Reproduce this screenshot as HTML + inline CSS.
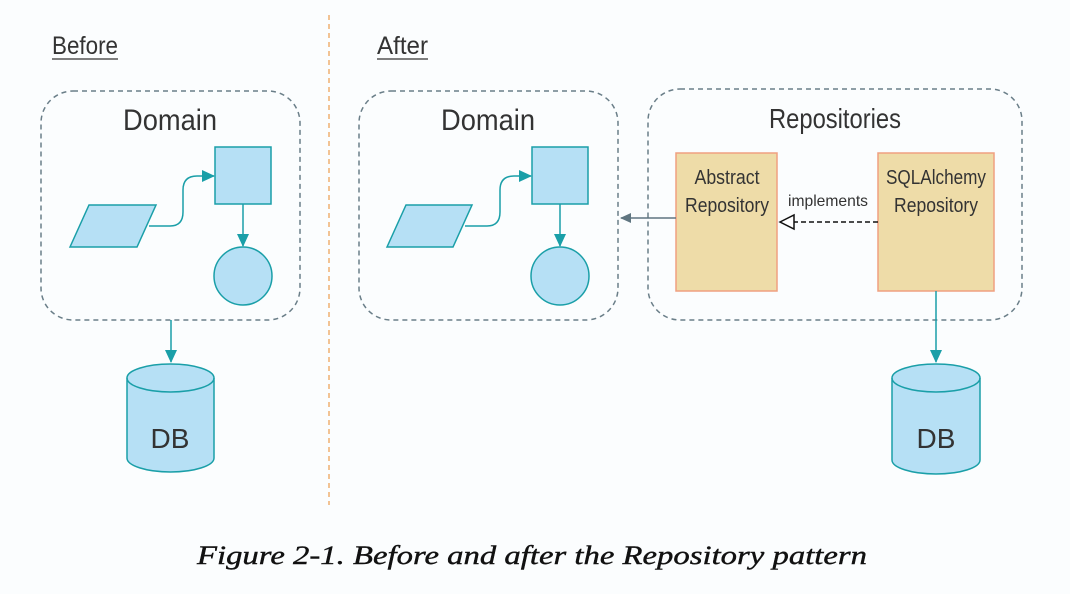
<!DOCTYPE html>
<html><head><meta charset="utf-8"><style>
html,body{margin:0;padding:0;background:#fff;}
svg{display:block;}
text{font-family:"Liberation Sans Narrow","Liberation Sans",sans-serif;fill:#333;}
</style></head><body>
<svg width="1070" height="594" viewBox="0 0 1070 594" xmlns="http://www.w3.org/2000/svg">
<defs>
<marker id="ta" markerWidth="13" markerHeight="12" refX="12" refY="6" orient="auto" markerUnits="userSpaceOnUse"><path d="M0,0 L13,6 L0,12 Z" fill="#1a9fa8"/></marker>
<marker id="ga" markerWidth="11" markerHeight="10" refX="10" refY="5" orient="auto" markerUnits="userSpaceOnUse"><path d="M0,0 L11,5 L0,10 Z" fill="#5f7580"/></marker>
</defs>
<rect width="1070" height="594" fill="#fbfdfe"/>
<line x1="329" y1="15" x2="329" y2="505" stroke="#f0b070" stroke-width="1.5" stroke-dasharray="5,4"/>
<text x="52" y="54" font-size="25" textLength="66" lengthAdjust="spacingAndGlyphs">Before</text>
<line x1="52" y1="59" x2="118" y2="59" stroke="#333" stroke-width="1.2"/>
<text x="377" y="54" font-size="25" textLength="51" lengthAdjust="spacingAndGlyphs">After</text>
<line x1="377" y1="59" x2="428" y2="59" stroke="#333" stroke-width="1.2"/>

<!-- Before domain -->
<rect x="41" y="91" width="259" height="229" rx="32" fill="none" stroke="#6a7e88" stroke-width="1.5" stroke-dasharray="5,4"/>
<text x="170" y="130" font-size="30" text-anchor="middle" textLength="94" lengthAdjust="spacingAndGlyphs">Domain</text>
<polygon points="70,247 89,205 156,205 137,247" fill="#b6e0f5" stroke="#1a9fa8" stroke-width="1.5"/>
<rect x="215" y="147" width="56" height="57" fill="#b6e0f5" stroke="#1a9fa8" stroke-width="1.5"/>
<path d="M149,226 L170,226 Q183,226 183,212 L183,190 Q183,176 197,176 L214,176" fill="none" stroke="#1a9fa8" stroke-width="1.5" marker-end="url(#ta)"/>
<line x1="243" y1="204" x2="243" y2="246" stroke="#1a9fa8" stroke-width="1.5" marker-end="url(#ta)"/>
<circle cx="243" cy="276" r="29" fill="#b6e0f5" stroke="#1a9fa8" stroke-width="1.5"/>
<line x1="171" y1="320" x2="171" y2="362" stroke="#1a9fa8" stroke-width="1.5" marker-end="url(#ta)"/>
<path d="M127,378 L127,458 A43.5,14 0 0 0 214,458 L214,378 A43.5,14 0 0 0 127,378 Z" fill="#b6e0f5" stroke="#1a9fa8" stroke-width="1.5"/>
<path d="M127,378 A43.5,14 0 0 0 214,378" fill="none" stroke="#1a9fa8" stroke-width="1.5"/>
<text x="170" y="448" font-size="28" text-anchor="middle">DB</text>

<!-- After domain -->
<rect x="359" y="91" width="259" height="229" rx="32" fill="none" stroke="#6a7e88" stroke-width="1.5" stroke-dasharray="5,4"/>
<text x="488" y="130" font-size="30" text-anchor="middle" textLength="94" lengthAdjust="spacingAndGlyphs">Domain</text>
<polygon points="387,247 406,205 472,205 453,247" fill="#b6e0f5" stroke="#1a9fa8" stroke-width="1.5"/>
<rect x="532" y="147" width="56" height="57" fill="#b6e0f5" stroke="#1a9fa8" stroke-width="1.5"/>
<path d="M465,226 L487,226 Q500,226 500,212 L500,190 Q500,176 514,176 L531,176" fill="none" stroke="#1a9fa8" stroke-width="1.5" marker-end="url(#ta)"/>
<line x1="560" y1="204" x2="560" y2="246" stroke="#1a9fa8" stroke-width="1.5" marker-end="url(#ta)"/>
<circle cx="560" cy="276" r="29" fill="#b6e0f5" stroke="#1a9fa8" stroke-width="1.5"/>

<!-- Repositories -->
<rect x="648" y="89" width="374" height="231" rx="32" fill="none" stroke="#6a7e88" stroke-width="1.5" stroke-dasharray="5,4"/>
<text x="835" y="128" font-size="28" text-anchor="middle" textLength="132" lengthAdjust="spacingAndGlyphs">Repositories</text>
<rect x="676" y="153" width="101" height="138" fill="#eedca8" stroke="#f0a080" stroke-width="1.5"/>
<text x="727" y="184" font-size="20" text-anchor="middle" textLength="65" lengthAdjust="spacingAndGlyphs">Abstract</text>
<text x="727" y="212" font-size="20" text-anchor="middle" textLength="84" lengthAdjust="spacingAndGlyphs">Repository</text>
<rect x="878" y="153" width="116" height="138" fill="#eedca8" stroke="#f0a080" stroke-width="1.5"/>
<text x="936" y="184" font-size="20" text-anchor="middle" textLength="100" lengthAdjust="spacingAndGlyphs">SQLAlchemy</text>
<text x="936" y="212" font-size="20" text-anchor="middle" textLength="84" lengthAdjust="spacingAndGlyphs">Repository</text>
<line x1="676" y1="218" x2="621" y2="218" stroke="#5f7580" stroke-width="1.5" marker-end="url(#ga)"/>
<text x="828" y="206" font-size="16" text-anchor="middle" textLength="80" lengthAdjust="spacingAndGlyphs">implements</text>
<line x1="878" y1="222" x2="794" y2="222" stroke="#111" stroke-width="1.5" stroke-dasharray="5,3"/>
<polygon points="780,222 794,215 794,229" fill="#fff" stroke="#111" stroke-width="1.5"/>
<line x1="936" y1="291" x2="936" y2="362" stroke="#1a9fa8" stroke-width="1.5" marker-end="url(#ta)"/>
<path d="M892,378 L892,460 A44,14 0 0 0 980,460 L980,378 A44,14 0 0 0 892,378 Z" fill="#b6e0f5" stroke="#1a9fa8" stroke-width="1.5"/>
<path d="M892,378 A44,14 0 0 0 980,378" fill="none" stroke="#1a9fa8" stroke-width="1.5"/>
<text x="936" y="448" font-size="28" text-anchor="middle">DB</text>

<text x="532" y="564" font-size="26" text-anchor="middle" font-style="italic" style="font-family:'Liberation Serif',serif;fill:#111;stroke:#111;stroke-width:0.4" textLength="670" lengthAdjust="spacingAndGlyphs">Figure 2-1. Before and after the Repository pattern</text>
</svg>
</body></html>
